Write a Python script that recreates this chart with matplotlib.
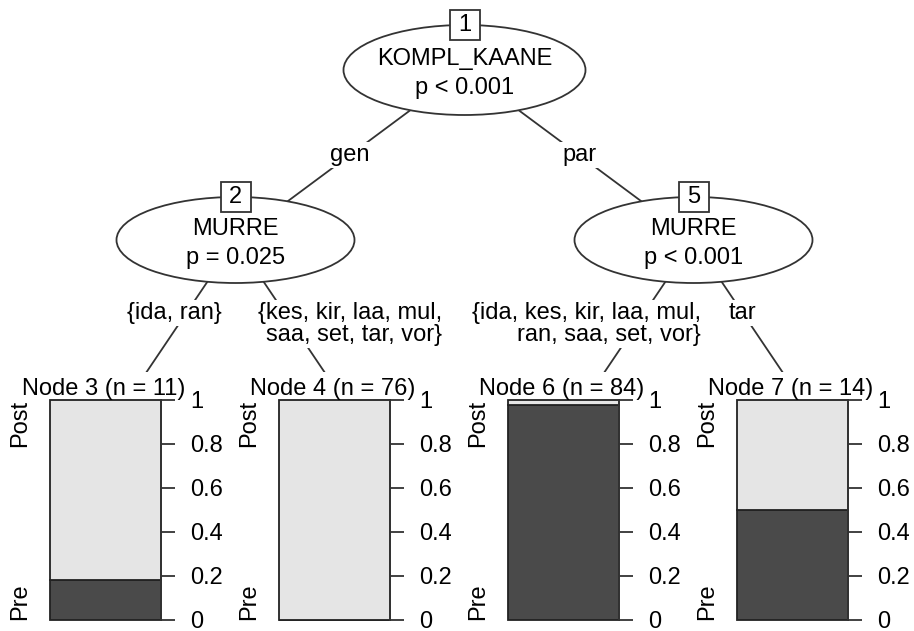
import matplotlib
matplotlib.use("Agg")
import matplotlib.pyplot as plt
from matplotlib.patches import Ellipse, Rectangle

# ---------------- data ----------------
inner_ids = [1, 2, 5]
inner_vars = ["KOMPL_KAANE", "MURRE", "MURRE"]
inner_pvals = ["p < 0.001", "p = 0.025", "p < 0.001"]
leaf_ids = [3, 4, 6, 7]
leaf_n = [11, 76, 84, 14]
leaf_pre = [2, 0, 82, 7]          # counts of class "Pre" in each leaf
classes = ["Pre", "Post"]
edges = [(1, 2), (1, 5), (2, 3), (2, 4), (5, 6), (5, 7)]
edge_labels = ["gen", "par", "{ida, ran}",
               "{kes, kir, laa, mul,\nsaa, set, tar, vor}",
               "{ida, kes, kir, laa, mul,\nran, saa, set, vor}",
               "tar"]
yticks = [0, 0.2, 0.4, 0.6, 0.8, 1]
ytick_labels = ["0", "0.2", "0.4", "0.6", "0.8", "1"]

# ---------------- layout (pixels) ----------------
W, H = 914, 631
FS = 17
FONT = "Liberation Sans"
LINE = "#333333"
DARK = "#4a4a4a"
LIGHT = "#e5e5e5"
plt.rcParams["font.family"] = [FONT, "DejaVu Sans"]

leaf_x0, leaf_step = 121, 229
leaf_x = {nid: leaf_x0 + i * leaf_step for i, nid in enumerate(leaf_ids)}
node_x = {2: (leaf_x[3] + leaf_x[4]) / 2, 5: (leaf_x[6] + leaf_x[7]) / 2}
node_x[1] = (leaf_x[3] + leaf_x[7]) / 2
node_y = {1: 70, 2: 240, 5: 240}
ell_size = {1: (242, 90), 2: (238, 86), 5: (238, 86)}
leaf_edge_y = 410
leaf_top = 372
bar_top, bar_bottom = 400, 620
bar_w = 111
bar_off = 71

def pos(nid):
    if nid in node_x:
        return node_x[nid], node_y[nid]
    return leaf_x[nid], leaf_edge_y

fig = plt.figure(figsize=(W / 100, H / 100), dpi=100)
ax = fig.add_axes([0, 0, 1, 1])
ax.set_xlim(0, W)
ax.set_ylim(H, 0)
ax.axis("off")

# edges
for (a, b) in edges:
    x0, y0 = pos(a)
    x1, y1 = pos(b)
    ax.plot([x0, x1], [y0, y1], color=LINE, lw=1.3, zorder=1)

# white leaf panels (cover line ends like partykit)
for nid in leaf_ids:
    ax.add_patch(Rectangle((leaf_x[nid] - leaf_step / 2, leaf_top), leaf_step, H - leaf_top,
                           fc="white", ec="none", zorder=2))

# edge labels
lbl_box = dict(facecolor="white", edgecolor="none", pad=1.5)
for (a, b), lab in zip(edges, edge_labels):
    x0, y0 = pos(a)
    x1, y1 = pos(b)
    if a == 1:
        ax.text((x0 + x1) / 2, (y0 + y1) / 2, lab, ha="center", va="center",
                fontsize=FS, bbox=lbl_box, zorder=5)
    else:
        ly = 302
        if "\n" in lab:
            if b == 4:
                lx, ha = 442, "right"
            else:
                lx, ha = 701, "right"
        else:
            t = (313 - y0) / (y1 - y0)
            lx, ha = x0 + t * (x1 - x0), "center"
            if b == 3:
                lx -= 12
        ax.text(lx, ly, lab, ha=ha, va="top", fontsize=FS, multialignment="right",
                linespacing=1.0, bbox=lbl_box, zorder=5)

# inner nodes
for nid, var, pv in zip(inner_ids, inner_vars, inner_pvals):
    x, y = node_x[nid], node_y[nid]
    w, h = ell_size[nid]
    ax.add_patch(Ellipse((x, y), w, h, fc="white", ec=LINE, lw=1.3, zorder=3))
    ax.add_patch(Rectangle((x - 15, y - h / 2 - 15), 30, 30, fc="white", ec=LINE,
                           lw=1.3, zorder=4))
    ax.text(x, y - h / 2, str(nid), ha="center", va="center", fontsize=FS, zorder=5)
    ax.text(x, y - 5, var, ha="center", va="baseline", fontsize=FS, zorder=5)
    ax.text(x, y + 24, pv, ha="center", va="baseline", fontsize=FS, zorder=5)

# terminal nodes: stacked bar plots
for nid, n, pre in zip(leaf_ids, leaf_n, leaf_pre):
    left = leaf_x[nid] - bar_off
    la = fig.add_axes([left / W, 1 - bar_bottom / H, bar_w / W, (bar_bottom - bar_top) / H])
    la.set_facecolor("none")
    p_pre = pre / n
    la.bar(0, p_pre, width=1, bottom=0, color=DARK, edgecolor="#222222", lw=1.3,
           clip_on=False, zorder=2)
    la.bar(0, 1 - p_pre, width=1, bottom=p_pre, color=LIGHT, edgecolor="#222222", lw=1.3,
           clip_on=False, zorder=2)
    la.set_xlim(-0.5, 0.5)
    la.set_ylim(0, 1)
    for s in ["top", "left", "bottom"]:
        la.spines[s].set_visible(False)
    la.spines["right"].set_color(LINE)
    la.spines["right"].set_linewidth(1.3)
    la.set_xticks([])
    la.yaxis.tick_right()
    la.set_yticks(yticks)
    la.set_yticklabels(ytick_labels)
    la.tick_params(axis="y", direction="out", length=10, width=1.3, color=LINE,
                   labelsize=FS, pad=11)
    la.annotate(f"Node {nid} (n = {n})", xy=(0.5, 1), xycoords="axes fraction",
                xytext=(-1.5, 3.6), textcoords="offset points", ha="center",
                va="baseline", fontsize=FS)
    la.annotate(classes[1], xy=(0, 1), xycoords="axes fraction", xytext=(-21.6, 0),
                textcoords="offset points", rotation=90, rotation_mode="anchor",
                ha="right", va="center", fontsize=FS, annotation_clip=False)
    la.annotate(classes[0], xy=(0, 0), xycoords="axes fraction", xytext=(-21.6, 0),
                textcoords="offset points", rotation=90, rotation_mode="anchor",
                ha="left", va="center", fontsize=FS, annotation_clip=False)

fig.savefig("out.png", dpi=100)
